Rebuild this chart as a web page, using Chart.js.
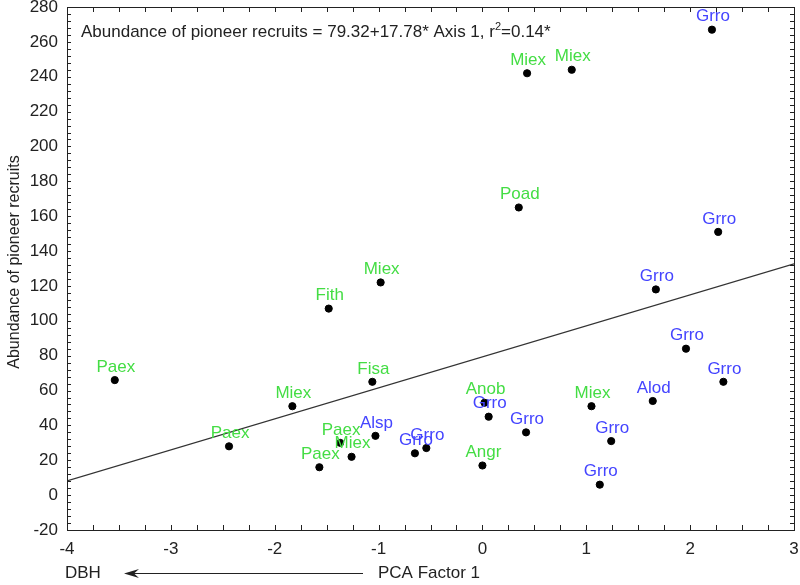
<!DOCTYPE html>
<html>
<head>
<meta charset="utf-8">
<script src="https://cdn.jsdelivr.net/npm/chart.js@4"></script>
<style>
  html, body { margin: 0; padding: 0; background: #fff; }
  #wrap { width: 800px; height: 585px; }
</style>
</head>
<body>
<div id="wrap"><canvas id="myChart" width="800" height="585"></canvas></div>
<script>
// PCA factor 1 score and abundance of pioneer recruits per plot
const species = ['Grro', 'Miex', 'Miex', 'Poad', 'Grro', 'Grro', 'Miex', 'Fith', 'Paex', 'Fisa',
  'Miex', 'Paex', 'Paex', 'Miex', 'Paex', 'Alsp', 'Grro', 'Grro', 'Angr', 'Anob',
  'Grro', 'Grro', 'Miex', 'Grro', 'Grro', 'Alod', 'Grro', 'Grro'];
const pcaFactor1 = [2.21, 0.43, 0.86, 0.35, 2.27, 1.67, -0.98, -1.48, -3.54, -1.06,
  -1.83, -2.44, -1.37, -1.26, -1.57, -1.03, -0.65, -0.54, 0.00, 0.02,
  0.06, 0.42, 1.05, 1.24, 1.13, 1.64, 1.96, 2.32];
const recruits = [267, 242, 244, 165, 151, 118, 122, 107, 66, 65,
  51, 28, 30, 22, 16, 34, 24, 27, 17, 53,
  45, 36, 51, 31, 6, 54, 84, 65];
const blueSpecies = ['Grro', 'Alsp', 'Alod'];

// regression: Abundance = 79.32 + 17.78 * Axis 1
const intercept = 79.32;
const slope = 17.78;
const xRange = [-4, 3];
const yRange = [-20, 280];

const FONT = "'Liberation Sans', Arial, sans-serif";
const GREEN = '#44dd44';
const BLUE = '#4444ff';
const INK = '#222';

document.addEventListener('DOMContentLoaded', function () {
  const ctx = document.getElementById('myChart').getContext('2d');

  const points = pcaFactor1.map((x, i) => ({ x, y: recruits[i] }));
  const fitLine = xRange.map(x => ({ x, y: intercept + slope * x }));

  const framePlugin = {
    id: 'frame',
    afterDraw(chart) {
      const c = chart.ctx;
      const a = chart.chartArea;
      const sx = chart.scales.x;
      const sy = chart.scales.y;
      c.save();

      // point labels
      c.font = '17px ' + FONT;
      c.textAlign = 'center';
      c.textBaseline = 'middle';
      const meta = chart.getDatasetMeta(0);
      meta.data.forEach((el, i) => {
        c.fillStyle = blueSpecies.includes(species[i]) ? BLUE : GREEN;
        c.fillText(species[i], el.x + 1, el.y - 13);
      });

      // frame
      c.strokeStyle = INK;
      c.lineWidth = 1;
      c.strokeRect(Math.round(a.left) + 0.5, Math.round(a.top) + 0.5,
        Math.round(a.right - a.left), Math.round(a.bottom - a.top));

      // inward tick marks on all four sides
      c.beginPath();
      for (let v = xRange[0]; v <= xRange[1] + 1e-9; v += 0.25) {
        const px = Math.round(sx.getPixelForValue(v)) + 0.5;
        c.moveTo(px, a.bottom); c.lineTo(px, a.bottom - 5);
        c.moveTo(px, a.top); c.lineTo(px, a.top + 5);
      }
      for (let v = yRange[0]; v <= yRange[1] + 1e-9; v += 4) {
        const py = Math.round(sy.getPixelForValue(v)) + 0.5;
        c.moveTo(a.left, py); c.lineTo(a.left + 4, py);
        c.moveTo(a.right, py); c.lineTo(a.right - 4, py);
      }
      c.stroke();

      // equation
      c.fillStyle = INK;
      c.textAlign = 'left';
      c.textBaseline = 'alphabetic';
      c.font = '17px ' + FONT;
      let tx = 81;
      const ty = 37;
      const part1 = 'Abundance of pioneer recruits = 79.32+17.78* Axis 1, r';
      c.fillText(part1, tx, ty);
      tx += c.measureText(part1).width;
      c.font = '11px ' + FONT;
      c.fillText('2', tx, ty - 7);
      tx += c.measureText('2').width;
      c.font = '17px ' + FONT;
      c.fillText('=0.14*', tx, ty);

      // y axis title
      c.save();
      c.translate(15, 262);
      c.rotate(-Math.PI / 2);
      c.textAlign = 'center';
      c.textBaseline = 'middle';
      c.font = '16px ' + FONT;
      c.fillText('Abundance of pioneer recruits', 0, 0);
      c.restore();

      // x axis captions with arrow
      c.font = '17px ' + FONT;
      c.textBaseline = 'middle';
      c.textAlign = 'left';
      c.fillText('DBH', 65, 573);
      c.fillText('PCA Factor 1', 378, 573);
      c.beginPath();
      c.moveTo(363, 573.5);
      c.lineTo(130, 573.5);
      c.stroke();
      c.beginPath();
      c.moveTo(124, 573.5);
      c.lineTo(139, 569);
      c.lineTo(134, 573.5);
      c.lineTo(139, 578);
      c.closePath();
      c.fill();

      c.restore();
    }
  };

  const chartConfig = {
    type: 'scatter',
    data: {
      datasets: [
        {
          label: 'plots',
          data: points,
          backgroundColor: '#000',
          borderColor: '#000',
          pointRadius: 3.6,
          pointHoverRadius: 3.6,
        },
        {
          type: 'line',
          label: 'fit',
          data: fitLine,
          borderColor: '#333',
          borderWidth: 1.3,
          pointRadius: 0,
          fill: false,
        },
      ],
    },
    options: {
      responsive: false,
      animation: false,
      layout: { padding: { top: 7, right: 6, left: 0, bottom: 0 } },
      scales: {
        x: {
          type: 'linear',
          min: xRange[0],
          max: xRange[1],
          ticks: { stepSize: 1, color: INK, font: { family: FONT, size: 17 }, padding: 9 },
          grid: { drawOnChartArea: false, drawTicks: false },
          border: { display: false },
          afterFit(scale) {
            scale.height = 55;
            scale.paddingLeft = 0;
            scale.paddingRight = 0;
          },
        },
        y: {
          min: yRange[0],
          max: yRange[1],
          ticks: { stepSize: 20, color: INK, font: { family: FONT, size: 17 }, padding: 9 },
          grid: { drawOnChartArea: false, drawTicks: false },
          border: { display: false },
          afterFit(scale) {
            scale.width = 67;
            scale.paddingTop = 0;
            scale.paddingBottom = 0;
          },
        },
      },
      plugins: {
        legend: { display: false },
        tooltip: { enabled: false },
      },
    },
    plugins: [framePlugin],
  };

  new Chart(ctx, chartConfig);
});
</script>
</body>
</html>
